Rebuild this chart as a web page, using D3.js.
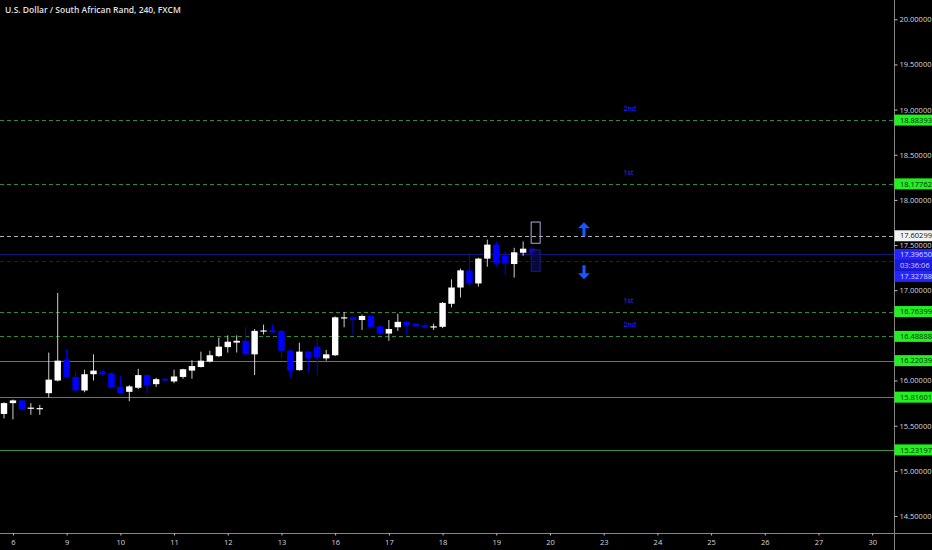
<!DOCTYPE html>
<html lang="en">
<head>
<meta charset="UTF-8">
<title>USDZAR 240</title>
<script src="https://cdn.jsdelivr.net/npm/d3@7"></script>
<style>
  html, body { margin: 0; padding: 0; background: #000; }
  svg { display: block; }
  text { font-family: "Open Sans", "DejaVu Sans", sans-serif; }
</style>
</head>
<body>
<svg id="chart"></svg>
<script>
// 4h bars, bar 0 is the last bar before the 6th
const opens  = [15.63, 15.75, 15.78, 15.69, 15.69, 15.86, 16.00, 16.23, 16.04, 15.89,
                16.07, 16.10, 16.08, 15.93, 15.875, 15.92, 16.06, 15.96, 16.02, 15.99,
                16.04, 16.11, 16.15, 16.21, 16.27, 16.37, 16.42, 16.44, 16.29, 16.545,
                16.556, 16.55, 16.33, 16.115, 16.32, 16.375, 16.245, 16.28, 16.69, 16.70,
                16.67, 16.715, 16.60, 16.52, 16.59, 16.65, 16.63, 16.61, 16.595, 16.595,
                16.85, 17.03, 17.22, 17.075, 17.35, 17.505, 17.38, 17.29, 17.415, 17.46];
const highs  = [15.76, 15.79, 15.79, 15.75, 15.73, 16.31, 16.97, 16.35, 16.10, 16.12,
                16.29, 16.11, 16.09, 16.05, 15.95, 16.13, 16.07, 16.03, 16.025, 16.12,
                16.13, 16.225, 16.32, 16.33, 16.475, 16.50, 16.50, 16.59, 16.57, 16.62,
                16.62, 16.56, 16.35, 16.42, 16.33, 16.46, 16.34, 16.71, 16.76, 16.71,
                16.73, 16.72, 16.61, 16.67, 16.74, 16.66, 16.64, 16.62, 16.63, 16.87,
                17.12, 17.24, 17.41, 17.36, 17.56, 17.54, 17.43, 17.47, 17.54, 17.47];
const lows   = [15.58, 15.57, 15.67, 15.62, 15.62, 15.81, 15.99, 16.03, 15.88, 15.87,
                16.00, 16.06, 15.91, 15.86, 15.77, 15.905, 15.86, 15.93, 15.99, 15.97,
                16.02, 16.02, 16.145, 16.20, 16.26, 16.31, 16.31, 16.28, 16.06, 16.51,
                16.53, 16.25, 16.03, 16.11, 16.09, 16.06, 16.22, 16.27, 16.59, 16.51,
                16.56, 16.58, 16.50, 16.44, 16.55, 16.51, 16.59, 16.58, 16.56, 16.58,
                16.81, 16.92, 17.045, 17.04, 17.26, 17.26, 17.17, 17.14, 17.38, 17.41];
const closes = [15.75, 15.78, 15.68, 15.70, 15.695, 16.01, 16.22, 16.04, 15.89, 16.07,
                16.11, 16.07, 15.92, 15.86, 15.935, 16.06, 15.95, 16.015, 16.00, 16.045,
                16.125, 16.16, 16.22, 16.28, 16.375, 16.43, 16.44, 16.29, 16.55, 16.555,
                16.535, 16.33, 16.11, 16.32, 16.245, 16.255, 16.29, 16.70, 16.70, 16.67,
                16.715, 16.59, 16.52, 16.57, 16.65, 16.61, 16.60, 16.59, 16.60, 16.86,
                17.03, 17.22, 17.075, 17.35, 17.505, 17.30, 17.30, 17.42, 17.46, 17.415];

const dayLabels = ["6", "9", "10", "11", "12", "13", "16", "17", "18", "19", "20", "23", "24", "25", "26", "27", "30"];
const dayStarts = [1, 7, 13, 19, 25, 31, 37, 43, 49, 55, 61, 67, 73, 79, 85, 91, 97];

const priceTicks = [14.5, 15, 15.5, 16, 16.5, 17, 17.5, 18, 18.5, 19, 19.5, 20];

const dashedLevels = [18.88393, 18.17762, 16.76399, 16.48888];
const levelNotes = ["2nd", "1st", "1st", "2nd"];
const solidLevels = [16.22039, 15.81601, 15.23197];
const greyLevel = 17.60299;
const blueLevels = [17.39650, 17.32788];
const countdown = "03:36:06";

// projection boxes and arrows beside the last bar
const projUp = [17.52, 17.755];
const projDown = [17.21, 17.445];
const arrowLevels = [17.675, 17.20];
const projBar = 59.4;
const arrowBar = 64.8;
const noteBar = 69.2;

const W = 932, H = 550;
const plotRight = 894, axisY = 533;

const svg = d3.select("#chart").attr("width", W).attr("height", H);
svg.append("rect").attr("width", W).attr("height", H).attr("fill", "#000");

const x = d3.scaleLinear().domain([0, 97]).range([4, 872.2]);
const y = d3.scaleLinear().domain([14.5, 20]).range([516, 19.3]);

const plot = svg.append("g");

// support / resistance levels
plot.selectAll(".dash").data(dashedLevels).enter().append("line")
    .attr("x1", 0).attr("x2", plotRight)
    .attr("y1", d => Math.round(y(d)) + 0.5).attr("y2", d => Math.round(y(d)) + 0.5)
    .attr("stroke", "#2e8b2e").attr("stroke-dasharray", "4 3");

plot.selectAll(".solid").data(solidLevels).enter().append("line")
    .attr("x1", 0).attr("x2", plotRight)
    .attr("y1", d => Math.round(y(d)) + 0.5).attr("y2", d => Math.round(y(d)) + 0.5)
    .attr("stroke", "#3a963a");

plot.append("line")
    .attr("x1", 0).attr("x2", plotRight)
    .attr("y1", Math.round(y(greyLevel)) + 0.5).attr("y2", Math.round(y(greyLevel)) + 0.5)
    .attr("stroke", "#b0b0b0").attr("stroke-dasharray", "4 3");

plot.selectAll(".blue").data(blueLevels).enter().append("line")
    .attr("x1", 0).attr("x2", plotRight)
    .attr("y1", d => Math.round(y(d)) + 0.5).attr("y2", d => Math.round(y(d)) + 0.5)
    .attr("stroke", "#16167c")
    .attr("stroke-dasharray", (d, i) => i === 0 ? null : "4 3");

plot.selectAll(".note").data(dashedLevels).enter().append("text")
    .attr("x", x(noteBar)).attr("y", d => y(d) - 9)
    .attr("fill", "#1d1dff").attr("font-size", "7px").attr("font-weight", 600)
    .text((d, i) => levelNotes[i]);

// candles
const bars = d3.range(opens.length).map(i => ({
    i: i, o: opens[i], h: highs[i], l: lows[i], c: closes[i], up: closes[i] >= opens[i]
}));
const bw = 6.4;

plot.selectAll(".wick").data(bars).enter().append("line")
    .attr("x1", d => x(d.i)).attr("x2", d => x(d.i))
    .attr("y1", d => y(d.h)).attr("y2", d => y(d.l))
    .attr("stroke", d => d.up ? "#cfcfcf" : "#0000ff");

plot.selectAll(".body").data(bars).enter().append("rect")
    .attr("x", d => x(d.i) - bw / 2)
    .attr("y", d => y(Math.max(d.o, d.c)))
    .attr("width", bw)
    .attr("height", d => Math.max(1.2, Math.abs(y(d.o) - y(d.c))))
    .attr("fill", d => d.up ? "#ffffff" : "#0000ff");

// projection boxes
plot.append("rect")
    .attr("x", x(projBar) - 4.5).attr("width", 9)
    .attr("y", y(projUp[1])).attr("height", y(projUp[0]) - y(projUp[1]))
    .attr("fill", "none").attr("stroke", "#a8a8d8");
plot.append("rect")
    .attr("x", x(projBar) - 4.5).attr("width", 9)
    .attr("y", y(projDown[1])).attr("height", y(projDown[0]) - y(projDown[1]))
    .attr("fill", "#0c0c5a").attr("fill-opacity", 0.7)
    .attr("stroke", "#1c1c7a");

// arrows
const upArrow = "M0,-7 L6,-1 L1.6,-1 L1.6,7 L-1.6,7 L-1.6,-1 L-6,-1 Z";
plot.selectAll(".arrow").data(arrowLevels).enter().append("path")
    .attr("d", upArrow)
    .attr("transform", (d, i) => `translate(${x(arrowBar)},${y(d)})` + (i === 1 ? " rotate(180)" : ""))
    .attr("fill", "#1a55ff");

// axes
svg.append("line").attr("x1", plotRight + 0.5).attr("x2", plotRight + 0.5)
    .attr("y1", 0).attr("y2", H).attr("stroke", "#858585");
svg.append("line").attr("x1", 0).attr("x2", W)
    .attr("y1", axisY + 0.5).attr("y2", axisY + 0.5).attr("stroke", "#858585");

const yAxis = svg.append("g").attr("transform", `translate(${plotRight + 0.5},0)`)
    .call(d3.axisRight(y).tickValues(priceTicks).tickFormat(d3.format(".5f")).tickSize(3).tickSizeOuter(0));
yAxis.select(".domain").remove();
yAxis.selectAll("line").attr("stroke", "#c0c0c0");
yAxis.selectAll("text").attr("fill", "#d8d8d8").attr("font-size", "7.5px").attr("x", 5);

const xAxis = svg.append("g").attr("transform", `translate(0,${axisY + 0.5})`)
    .call(d3.axisBottom(x).tickValues(dayStarts).tickFormat((d, i) => dayLabels[i]).tickSize(2).tickSizeOuter(0));
xAxis.select(".domain").remove();
xAxis.selectAll("line").attr("stroke", "#c0c0c0");
xAxis.selectAll("text").attr("fill", "#d8d8d8").attr("font-size", "7.5px").attr("dy", "0.9em");

// price boxes on the right scale
const boxH = 11;
function priceBox(cy, label, bg, fg) {
    svg.append("rect").attr("x", plotRight + 0.5).attr("y", cy - boxH / 2)
        .attr("width", W - plotRight).attr("height", boxH).attr("fill", bg);
    svg.append("text").attr("x", plotRight + 6).attr("y", cy).attr("dy", "0.35em")
        .attr("fill", fg).attr("font-size", "7.5px").text(label);
}
const fmt = d3.format(".5f");
dashedLevels.concat(solidLevels).forEach(v => priceBox(y(v), fmt(v), "#22f022", "#0b2a0b"));
priceBox(y(greyLevel), fmt(greyLevel), "#f2f2f2", "#111");
const b0 = y(blueLevels[0]);
priceBox(b0, fmt(blueLevels[0]), "#2424ff", "#dcdcff");
priceBox(b0 + boxH, countdown, "#1a1ad8", "#d0d0ff");
priceBox(b0 + 2 * boxH, fmt(blueLevels[1]), "#2424ff", "#dcdcff");

// title
svg.append("text").attr("x", 5).attr("y", 12.5)
    .attr("fill", "#e2e2e2").attr("font-size", "8.5px").attr("font-weight", 600)
    .text("U.S. Dollar / South African Rand, 240, FXCM");
</script>
</body>
</html>
